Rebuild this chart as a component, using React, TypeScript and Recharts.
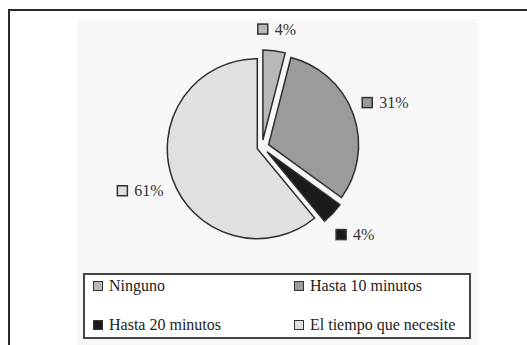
import { Cell, Legend, Pie, PieChart } from 'recharts';

const categories = ['Ninguno', 'Hasta 10 minutos', 'Hasta 20 minutos', 'El tiempo que necesite'];
const values = [4, 31, 4, 61];

const fills = ['#b8b8b8', '#9b9b9b', '#1b1b1b', '#e0e0e0'];
const explode = [7, 7, 7, 5];
const edge = '#2e2e2e';
const serif = 'Liberation Serif, DejaVu Serif, Times New Roman, serif';

const CX = 262;
const CY = 147;
const R = 90;
const RADIAN = Math.PI / 180;

const data = categories.map((name, i) => ({ name, value: values[i] }));
const total = values.reduce((a, b) => a + b, 0);

// shift each slice outwards along its own mid angle
const offsets = values.map((v, i) => {
  const before = values.slice(0, i).reduce((a, b) => a + b, 0);
  const mid = 90 - (360 * (before + v / 2)) / total;
  return {
    dx: Math.cos(mid * RADIAN) * explode[i],
    dy: -Math.sin(mid * RADIAN) * explode[i],
  };
});

const textWidth = (s: string) => (s.length - 1) * 8 + 13.3;

const makeLabel = (own: number) => (props: any) => {
  const { cx, cy, midAngle, outerRadius, index, value } = props;
  if (index !== own) return null;
  const cos = Math.cos(midAngle * RADIAN);
  const d = outerRadius + 20 + 15 * Math.abs(cos);
  const x = cx + d * cos;
  const y = cy - d * Math.sin(midAngle * RADIAN);
  const text = `${value}%`;
  const w = 17 + textWidth(text);
  const left = x - w / 2;
  return (
    <g>
      <rect x={left} y={y - 5} width={10} height={10} fill={fills[index]} stroke="#333" strokeWidth={1.5} />
      <text x={left + 17} y={y} dominantBaseline="central" fontFamily={serif} fontSize={16} fill="#333">
        {text}
      </text>
    </g>
  );
};

function LegendBox() {
  return (
    <div
      style={{
        boxSizing: 'border-box',
        width: 388,
        height: 66,
        border: '2px solid #444',
        background: '#fff',
        display: 'grid',
        gridTemplateColumns: '201px 1fr',
        gridTemplateRows: '22px 22px',
        rowGap: 17,
        padding: '0 0 0 8px',
        fontFamily: serif,
        fontSize: 16,
        color: '#222',
      }}
    >
      {categories.map((name, i) => (
        <div key={name} style={{ display: 'flex', alignItems: 'center', gap: 6 }}>
          <span
            style={{
              display: 'inline-block',
              boxSizing: 'border-box',
              width: 10,
              height: 10,
              background: fills[i],
              border: '1.5px solid #333',
            }}
          />
          <span>{name}</span>
        </div>
      ))}
    </div>
  );
}

export default function App() {
  return (
    <div style={{ position: 'absolute', left: 0, top: 0, width: 527, height: 345, overflow: 'hidden', background: '#fff' }}>
      <div
        style={{
          position: 'absolute',
          left: 8,
          top: 9,
          width: 540,
          height: 400,
          borderTop: '2px solid #2a2a2a',
          borderLeft: '2px solid #2a2a2a',
        }}
      />
      <div style={{ position: 'absolute', left: 77, top: 19, width: 402, height: 330, background: '#f7f7f7' }} />
      <div style={{ position: 'absolute', left: 0, top: 0 }}>
        <PieChart width={527} height={345} margin={{ top: 0, right: 0, bottom: 0, left: 0 }}>
          {values.map((_, i) => (
            <Pie
              key={i}
              data={data}
              dataKey="value"
              nameKey="name"
              cx={CX + offsets[i].dx}
              cy={CY + offsets[i].dy}
              outerRadius={R}
              startAngle={90}
              endAngle={-270}
              isAnimationActive={false}
              legendType={i === 0 ? 'square' : 'none'}
              label={makeLabel(i)}
              labelLine={false}
            >
              {data.map((d, j) => (
                <Cell
                  key={d.name}
                  fill={j === i ? fills[j] : 'none'}
                  stroke={j === i ? edge : 'none'}
                  strokeWidth={1.5}
                />
              ))}
            </Pie>
          ))}
          <Legend
            content={<LegendBox />}
            wrapperStyle={{ position: 'absolute', left: 83, top: 273, width: 388, height: 66, bottom: 'auto' }}
          />
        </PieChart>
      </div>
    </div>
  );
}
